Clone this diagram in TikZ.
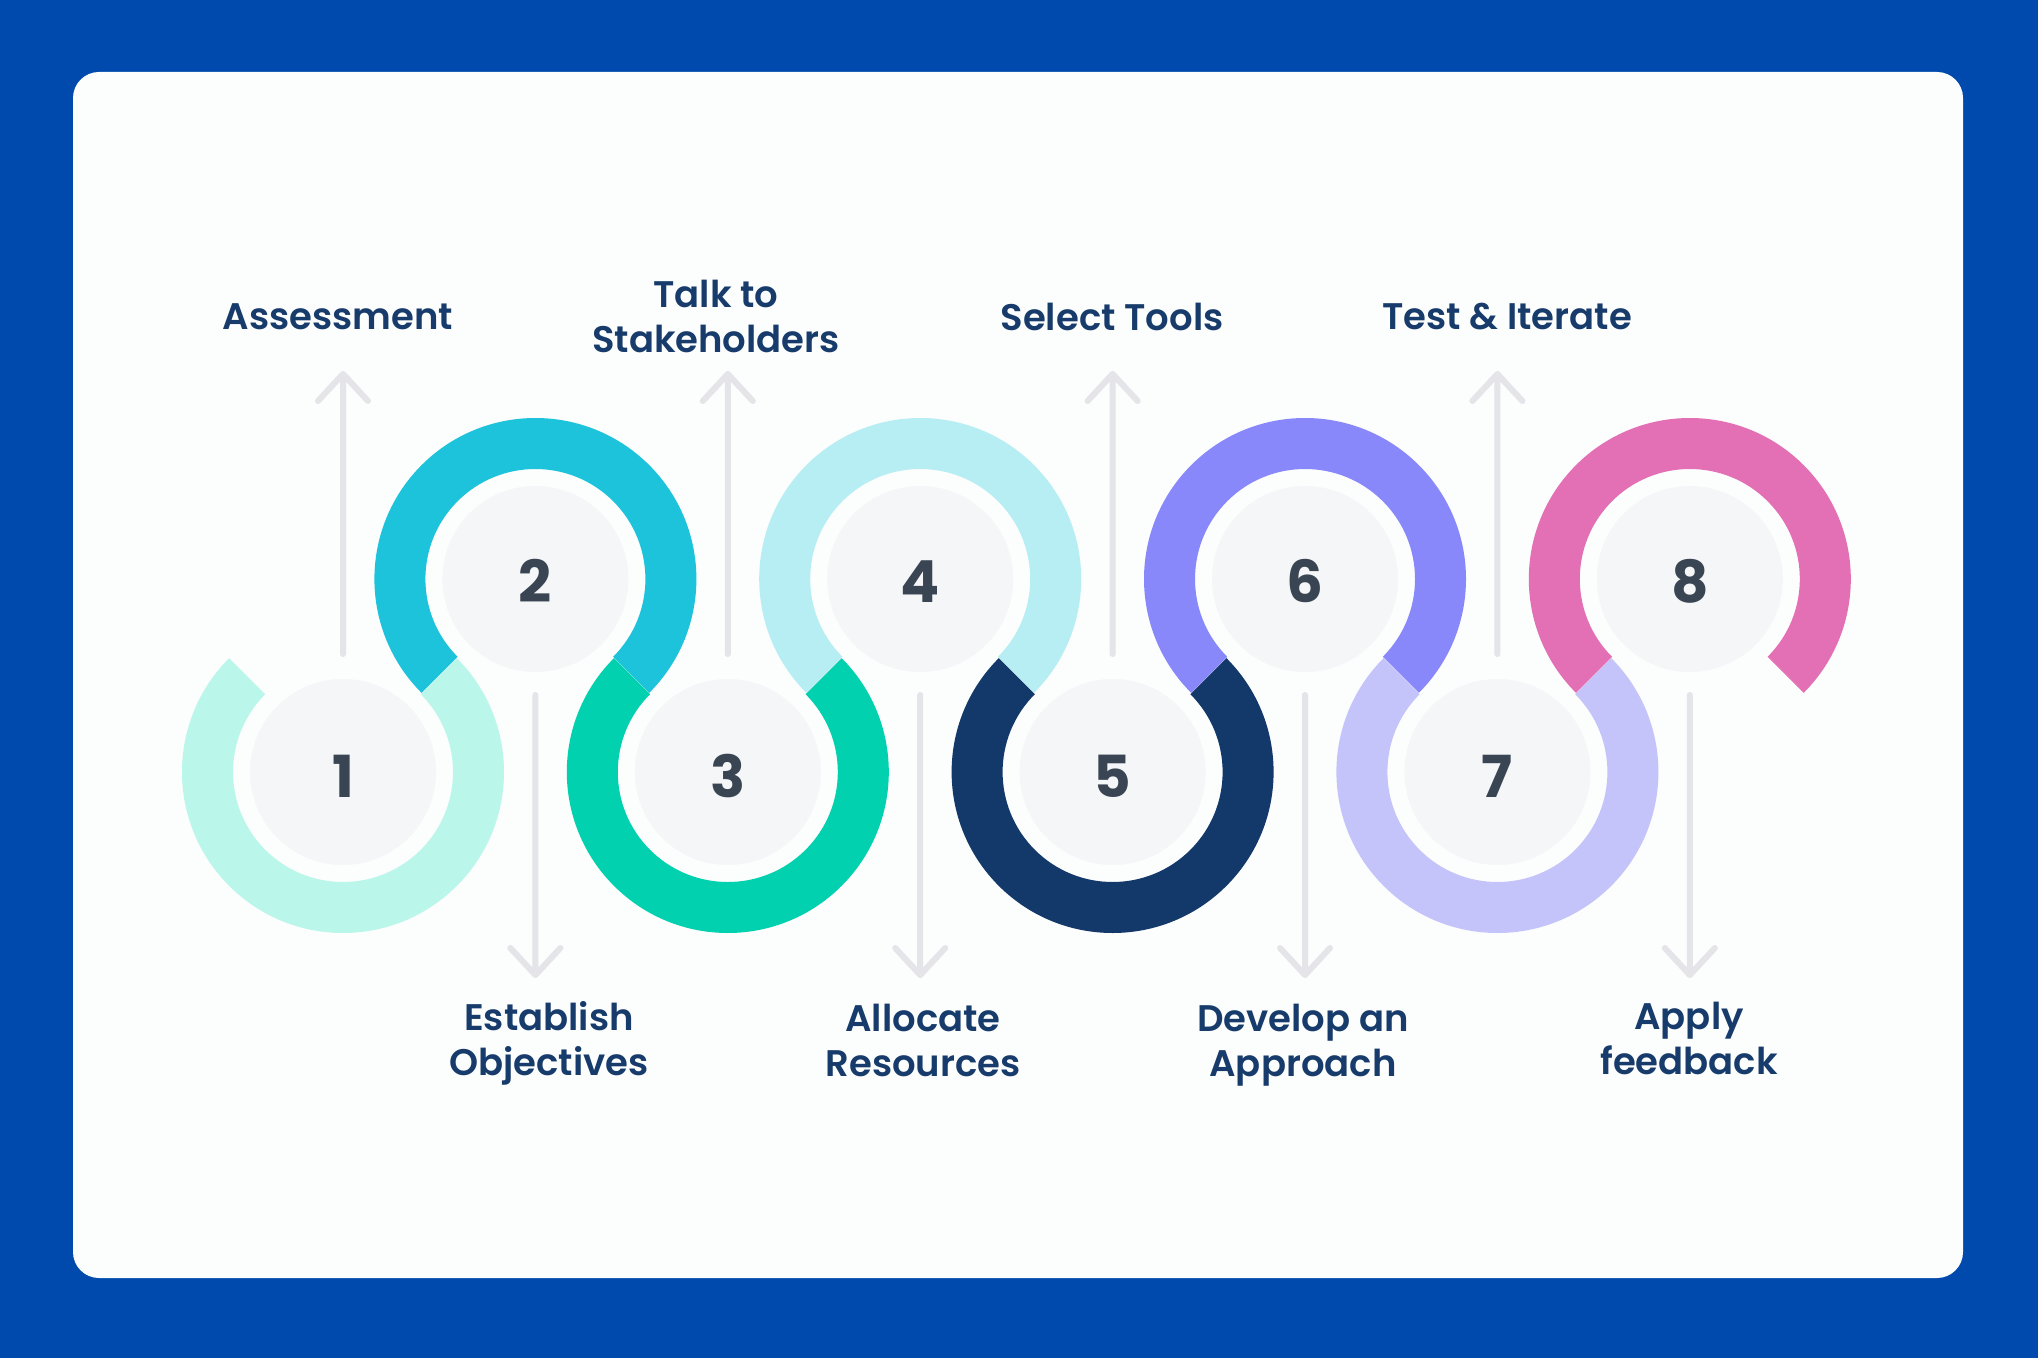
\documentclass[tikz,border=0pt]{standalone}
\usepackage{fontspec}
\IfFontExistsTF{Poppins SemiBold}{\newfontfamily\labfont{Poppins SemiBold}}{\newfontfamily\labfont{Poppins}}
\IfFontExistsTF{Poppins Bold}{\newfontfamily\numfont{Poppins Bold}}{\newfontfamily\numfont{Poppins}[FakeBold=2]}
\definecolor{bgblue}{HTML}{004AAD}
\definecolor{cardw}{HTML}{FCFDFD}
\definecolor{cA}{HTML}{BAF6EA}
\definecolor{cB}{HTML}{1CC3DA}
\definecolor{cC}{HTML}{02D1AF}
\definecolor{cD}{HTML}{B7EEF4}
\definecolor{cE}{HTML}{13386A}
\definecolor{cF}{HTML}{8888FA}
\definecolor{cG}{HTML}{C5C4FA}
\definecolor{cH}{HTML}{E36FB4}
\definecolor{disc}{HTML}{F5F6F7}
\definecolor{numc}{HTML}{394553}
\definecolor{labc}{HTML}{173B6B}
\definecolor{arrc}{HTML}{E4E4E9}
\newcommand\ringarc[5]{%
  \fill[#5] (#1,#2) ++(#3:161) arc[start angle=#3, end angle=#4, radius=161]
    -- ++({#4+180}:51) arc[start angle=#4, end angle=#3, radius=110] -- cycle;}
\tikzset{
  numdisc/.style={circle, fill=disc, minimum size=93pt, inner sep=0pt, text=numc,
    text height=25pt, text depth=0pt, font=\numfont\fontsize{29}{32}\selectfont},
  numdisctop/.style={numdisc, text height=23pt},
  lab/.style={text=labc, align=center, font=\labfont\fontsize{18.5}{22.5}\selectfont, inner sep=0pt},
  arr/.style={draw=arrc, line width=3pt, line cap=round, line join=round}
}
\begin{document}
\begin{tikzpicture}[x=0.5pt,y=-0.5pt]
\useasboundingbox (0,0) rectangle (2038,1358);
\fill[bgblue] (0,0) rectangle (2038,1358);
\fill[cardw, rounded corners=13pt] (73,72) rectangle (1963,1278);
% rings
\ringarc{343.0}{772}{-135}{-405}{cA}
\ringarc{535.4}{579}{-225}{45}{cB}
\ringarc{727.8}{772}{-135}{-405}{cC}
\ringarc{920.2}{579}{-225}{45}{cD}
\ringarc{1112.6}{772}{-135}{-405}{cE}
\ringarc{1305.0}{579}{-225}{45}{cF}
\ringarc{1497.4}{772}{-135}{-405}{cG}
\ringarc{1689.8}{579}{-225}{45}{cH}
% discs
\node[numdisc] (n1) at (343.0,772) {1};
\node[numdisctop] (n2) at (535.4,579) {2};
\node[numdisc] (n3) at (727.8,772) {3};
\node[numdisctop] (n4) at (920.2,579) {4};
\node[numdisc] (n5) at (1112.6,772) {5};
\node[numdisctop] (n6) at (1305.0,579) {6};
\node[numdisc] (n7) at (1497.4,772) {7};
\node[numdisctop] (n8) at (1689.8,579) {8};
% arrow coordinates
\foreach \i/\x in {1/343.0,3/727.8,5/1112.6,7/1497.4}{
  \coordinate (s\i) at (\x,654);
  \coordinate (t\i) at (\x,374);
}
\foreach \i/\x in {2/535.4,4/920.2,6/1305.0,8/1689.8}{
  \coordinate (s\i) at (\x,695);
  \coordinate (t\i) at (\x,975);
}
\foreach \i in {1,3,5,7}{
  \draw[arr] (s\i) -- (t\i) -- ++(-25,27) (t\i) -- ++(25,27);
}
\foreach \i in {2,4,6,8}{
  \draw[arr] (s\i) -- (t\i) -- ++(-25,-27) (t\i) -- ++(25,-27);
}
% labels
\node[lab] (l1) at (338,317) {Assessment};
\node[lab] (l3) at (716,316) {Talk to\\Stakeholders};
\node[lab] (l5) at (1112,317) {Select Tools};
\node[lab] (l7) at (1507,317) {Test \& Iterate};
\node[lab, anchor=north] (l2) at (549,1001) {Establish\\Objectives};
\node[lab, anchor=north] (l4) at (923,1004) {Allocate\\Resources};
\node[lab, anchor=north] (l6) at (1303,1004) {Develop an\\Approach};
\node[lab, anchor=north] (l8) at (1689,1002) {Apply\\feedback};
\end{tikzpicture}
\end{document}
